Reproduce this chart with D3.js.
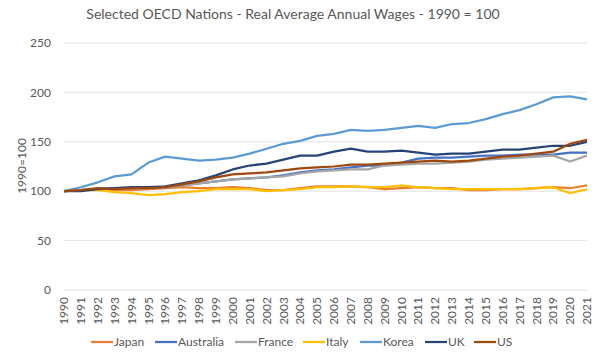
<!DOCTYPE html>
<html>
<head>
<meta charset="utf-8">
<script src="https://cdn.jsdelivr.net/npm/d3@7"></script>
<style>
body { margin: 0; background: #fff; }
text { font-family: Lato, "Open Sans", sans-serif; fill: #595959; }
</style>
</head>
<body>
<div id="chart"></div>
<script>
var years = d3.range(1990, 2022);
var yTicks = [0, 50, 100, 150, 200, 250];

var japan = [100,101,102,101,101,102,103,104,103,103,104,103,101,101,103,105,105,105,104,102,103,104,103,103,101,101,102,102,103,104,103,106];
var australia = [100,101,102,103,103,104,104,106,108,110,112,113,114,116,119,121,122,124,126,126,129,133,134,134,135,136,136,137,137,137,139,139];
var france = [100,101,102,102,103,103,104,106,108,110,112,113,114,115,118,120,121,122,122,126,127,128,128,129,130,132,133,134,135,136,130,136];
var italy = [100,101,101,99,98,96,97,99,100,102,102,102,100,101,102,104,104,105,104,104,106,104,103,102,102,102,102,102,103,104,98,102];
var korea = [100,104,109,115,117,129,135,133,131,132,134,138,143,148,151,156,158,162,161,162,164,166,164,168,169,173,178,182,188,195,196,193];
var uk = [100,100,102,103,104,104,105,108,111,116,122,126,128,132,136,136,140,143,140,140,141,139,137,138,138,140,142,142,144,146,146,150];
var us = [100,101,103,102,103,103,104,107,110,114,117,118,119,121,123,124,125,127,127,128,129,130,131,130,131,133,135,136,138,140,148,152];

var seriesNames = ["Japan", "Australia", "France", "Italy", "Korea", "UK", "US"];
var seriesData = [japan, australia, france, italy, korea, uk, us];
var colors = ["#ED7D31", "#4472C4", "#A5A5A5", "#FFC000", "#5B9BD5", "#264478", "#9E480E"];

var width = 600, height = 361;
var svg = d3.select("#chart").append("svg")
    .attr("width", width)
    .attr("height", height);

var x = d3.scalePoint().domain(years).range([64, 587]);
var y = d3.scaleLinear().domain([0, 250]).range([290, 43]);

// gridlines
svg.append("g")
    .selectAll("line")
    .data(yTicks)
    .enter().append("line")
    .attr("x1", 64).attr("x2", 587)
    .attr("y1", function (d) { return y(d); })
    .attr("y2", function (d) { return y(d); })
    .attr("stroke", "#e3e3e3")
    .attr("stroke-width", 1);

// y tick labels
svg.append("g")
    .selectAll("text")
    .data(yTicks)
    .enter().append("text")
    .attr("x", 51)
    .attr("y", function (d) { return y(d); })
    .attr("dy", "0.35em")
    .attr("text-anchor", "end")
    .attr("font-size", 12)
    .text(function (d) { return d; });

// x tick labels, rotated
svg.append("g")
    .selectAll("text")
    .data(years)
    .enter().append("text")
    .attr("transform", function (d) {
        return "translate(" + x(d) + ",297) rotate(-90)";
    })
    .attr("dy", "0.35em")
    .attr("text-anchor", "end")
    .attr("font-size", 12)
    .text(function (d) { return d; });

// axis title
svg.append("text")
    .attr("transform", "translate(22,166) rotate(-90)")
    .attr("text-anchor", "middle")
    .attr("dy", "0.35em")
    .attr("font-size", 12)
    .text("1990=100");

// title
svg.append("text")
    .attr("x", 293)
    .attr("y", 19)
    .attr("text-anchor", "middle")
    .attr("font-size", 14)
    .text("Selected OECD Nations - Real Average Annual Wages - 1990 = 100");

var line = d3.line()
    .x(function (d, i) { return x(years[i]); })
    .y(function (d) { return y(d); });

svg.append("g")
    .selectAll("path")
    .data(seriesData)
    .enter().append("path")
    .attr("d", line)
    .attr("fill", "none")
    .attr("stroke", function (d, i) { return colors[i]; })
    .attr("stroke-width", 2.25)
    .attr("stroke-linejoin", "round");

// legend
var legendX = [91, 155, 235, 303, 360, 425, 474];
var legend = svg.append("g")
    .selectAll("g")
    .data(seriesNames)
    .enter().append("g")
    .attr("transform", function (d, i) { return "translate(" + legendX[i] + ",342)"; });

legend.append("line")
    .attr("x1", 0).attr("x2", 22)
    .attr("stroke", function (d, i) { return colors[i]; })
    .attr("stroke-width", 2.25);

legend.append("text")
    .attr("x", 23)
    .attr("dy", "0.35em")
    .attr("font-size", 12)
    .text(function (d) { return d; });
</script>
</body>
</html>
